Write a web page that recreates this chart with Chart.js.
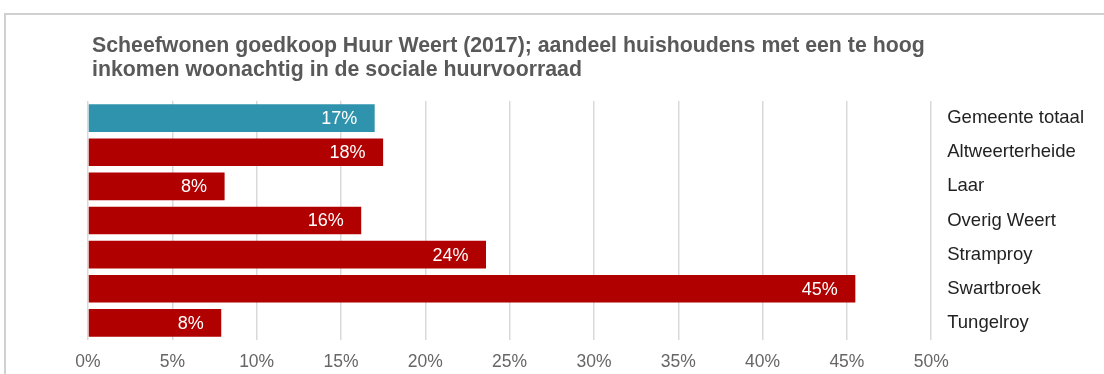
<!DOCTYPE html>
<html>
<head>
<meta charset="utf-8">
<script src="https://cdn.jsdelivr.net/npm/chart.js@4/dist/chart.umd.min.js"></script>
<style>
  html, body { margin: 0; padding: 0; background: #fff; overflow: hidden; }
  #frame { position: absolute; left: 4px; top: 13px; width: 1200px; height: 500px;
           border-left: 2px solid #d0d0d0; border-top: 2px solid #d0d0d0; }
  #wrap { position: absolute; left: 0; top: 0; width: 1104px; height: 374px; }
</style>
</head>
<body>
<div id="frame"></div>
<div id="wrap"><canvas id="c" width="1104" height="374"></canvas></div>
<script>
const categories = ['Gemeente totaal', 'Altweerterheide', 'Laar', 'Overig Weert', 'Stramproy', 'Swartbroek', 'Tungelroy'];
const shareValues = [17.0, 17.5, 8.1, 16.2, 23.6, 45.5, 7.9];
const valueLabels = ['17%', '18%', '8%', '16%', '24%', '45%', '8%'];
const barColors = ['#3093ad', '#b00000', '#b00000', '#b00000', '#b00000', '#b00000', '#b00000'];
const xTicks = [0, 5, 10, 15, 20, 25, 30, 35, 40, 45, 50];
const titleLines = ['Scheefwonen goedkoop Huur Weert (2017); aandeel huishoudens met een te hoog',
                    'inkomen woonachtig in de sociale huurvoorraad'];

const FONT = "'Liberation Sans', Arial, sans-serif";

const valueLabelPlugin = {
  id: 'valueLabels',
  afterDatasetsDraw(chart) {
    const ctx = chart.ctx;
    const meta = chart.getDatasetMeta(0);
    ctx.save();
    ctx.font = '18px ' + FONT;
    ctx.fillStyle = '#ffffff';
    ctx.textAlign = 'right';
    ctx.textBaseline = 'middle';
    meta.data.forEach((bar, i) => {
      ctx.fillText(valueLabels[i], bar.x - 17.5, bar.y + 1);
    });
    ctx.restore();
  }
};

const titleShift = {
  id: 'titleShift',
  afterLayout(chart) {
    if (chart.titleBlock) { chart.titleBlock.left += 4; chart.titleBlock.right += 4; }
  }
};

new Chart(document.getElementById('c'), {
  type: 'bar',
  data: {
    labels: categories,
    datasets: [{
      data: shareValues,
      backgroundColor: barColors,
      borderWidth: 0,
      barPercentage: 0.81,
      categoryPercentage: 1.0
    }]
  },
  options: {
    indexAxis: 'y',
    responsive: false,
    animation: false,
    devicePixelRatio: 1,
    layout: { padding: { left: 88, right: 4, top: 0, bottom: -11 } },
    plugins: {
      legend: { display: false },
      tooltip: { enabled: false },
      title: {
        display: true,
        text: titleLines,
        align: 'start',
        color: '#595959',
        font: { family: FONT, size: 21.3, weight: 'bold', lineHeight: 1.127 },
        padding: { top: 34, bottom: 19 }
      }
    },
    scales: {
      x: {
        min: 0, max: 50,
        afterBuildTicks(scale) { scale.ticks = xTicks.map(v => ({ value: v })); },
        ticks: {
          callback: v => v + '%',
          color: '#666666',
          font: { family: FONT, size: 17.5 },
          padding: 12,
          maxRotation: 0
        },
        grid: { color: '#d9d9d9', lineWidth: 1.5, drawTicks: false },
        border: { display: false }
      },
      y: {
        position: 'right',
        ticks: {
          color: '#222222',
          font: { family: FONT, size: 18.5 },
          padding: 16
        },
        grid: { display: false, drawTicks: false },
        border: { display: false }
      }
    }
  },
  plugins: [valueLabelPlugin, titleShift]
});
</script>
</body>
</html>
